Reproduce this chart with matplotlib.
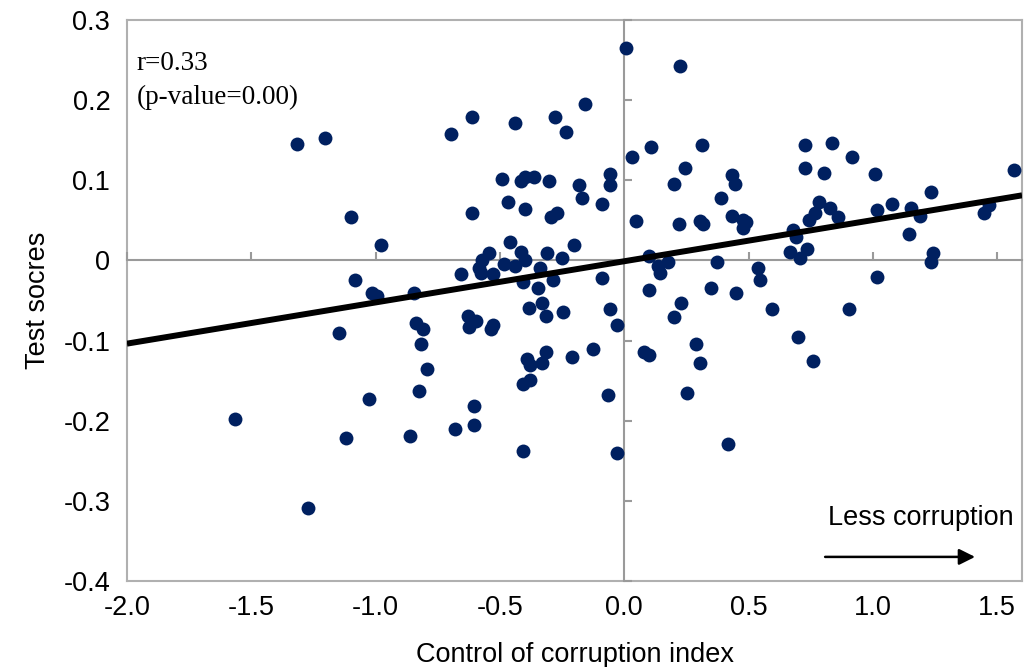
import matplotlib
matplotlib.use("Agg")
import matplotlib.pyplot as plt
import numpy as np

# Control of corruption index (x) and test scores (y)
corruption = [
    -1.316, -1.204, -1.099, -0.978, -1.083, -1.014, -0.994, -0.845,
    -1.147, -0.837, -0.809, -0.817, -0.793, -0.825, -1.027, -1.566, -1.119, -0.862, -1.272,
    0.007, -0.158, -0.612, -0.697, -0.439, -0.278, -0.234, 0.031,
    -0.492, -0.415, -0.399, -0.363, -0.302, -0.057, -0.057, -0.182, -0.170, -0.089,
    -0.612, -0.467, -0.399, -0.294, -0.270, 0.047,
    -0.459, -0.202, -0.544, -0.572, -0.415, -0.399, -0.311, -0.250,
    -0.483, -0.439, -0.584, -0.339, -0.656, -0.576, -0.528, -0.286, -0.089,
    -0.407, -0.347,
    -0.383, -0.331, -0.315, -0.246, -0.057, -0.029,
    -0.628, -0.624, -0.596, -0.536, -0.528,
    -0.391, -0.379, -0.331, -0.315, -0.210, -0.126,
    -0.407, -0.379, -0.065, -0.604, -0.604, -0.681, -0.407, -0.029,
    0.224, 0.108, 0.313, 0.245, 0.200, 0.434, 0.446, 0.389,
    0.220, 0.305, 0.317, 0.434, 0.478, 0.478, 0.490,
    0.727, 0.836, 0.727, 0.804, 0.784, 0.767, 0.743, 0.828, 0.860,
    0.679, 0.691, 0.667, 0.735, 0.707,
    0.100, 0.136, 0.144, 0.176, 0.373, 0.538, 0.546,
    0.100, 0.349, 0.450, 0.228, 0.200, 0.595,
    0.289, 0.080, 0.100, 0.305, 0.699, 0.760, 0.253, 0.418,
    0.916, 1.009, 1.568, 1.017, 1.077, 1.154, 1.190, 1.234, 1.467, 1.447, 1.146,
    1.242, 1.234, 1.017, 0.904,
]
test_scores = [
    0.145, 0.1525, 0.054, 0.019, -0.024, -0.041, -0.044, -0.041,
    -0.090, -0.0775, -0.085, -0.104, -0.136, -0.1625, -0.1725, -0.1975, -0.221, -0.219, -0.309,
    0.265, 0.195, 0.179, 0.1575, 0.171, 0.179, 0.160, 0.129,
    0.101, 0.099, 0.104, 0.104, 0.099, 0.1075, 0.094, 0.094, 0.0775, 0.070,
    0.059, 0.0725, 0.064, 0.054, 0.059, 0.049,
    0.0225, 0.019, 0.009, 0.001, 0.011, 0.001, 0.009, 0.0025,
    -0.005, -0.0075, -0.010, -0.010, -0.0175, -0.016, -0.0175, -0.024, -0.0225,
    -0.0275, -0.034,
    -0.059, -0.0525, -0.069, -0.064, -0.061, -0.080,
    -0.069, -0.0825, -0.076, -0.085, -0.080,
    -0.1225, -0.130, -0.1275, -0.114, -0.120, -0.111,
    -0.154, -0.149, -0.1675, -0.181, -0.205, -0.210, -0.2375, -0.240,
    0.2425, 0.141, 0.144, 0.115, 0.096, 0.106, 0.096, 0.0775,
    0.046, 0.049, 0.046, 0.056, 0.051, 0.041, 0.0475,
    0.144, 0.146, 0.115, 0.109, 0.0725, 0.059, 0.051, 0.065, 0.054,
    0.0375, 0.029, 0.011, 0.014, 0.0025,
    0.006, -0.0075, -0.016, -0.0025, -0.0025, -0.010, -0.024,
    -0.0375, -0.034, -0.040, -0.0525, -0.071, -0.061,
    -0.104, -0.114, -0.1175, -0.1275, -0.096, -0.125, -0.165, -0.229,
    0.129, 0.1075, 0.1125, 0.0625, 0.070, 0.065, 0.056, 0.086, 0.069, 0.059, 0.0325,
    0.009, -0.0025, -0.021, -0.061,
]

# Trend line (as drawn in the reference)
trend_slope = 0.0514
trend_intercept = -0.001

x_ticks = [-2.0, -1.5, -1.0, -0.5, 0.0, 0.5, 1.0, 1.5]
x_tick_labels = ["-2.0", "-1.5", "-1.0", "-0.5", "0.0", "0.5", "1.0", "1.5"]
y_ticks = [-0.4, -0.3, -0.2, -0.1, 0.0, 0.1, 0.2, 0.3]
y_tick_labels = ["-0.4", "-0.3", "-0.2", "-0.1", "0", "0.1", "0.2", "0.3"]
x_range = (-2.0, 1.6)
y_range = (-0.4, 0.3)

SANS = ["Liberation Sans", "DejaVu Sans"]
SERIF = ["Liberation Serif", "DejaVu Serif"]
GRAY = "#9a9a9a"
FS = 19.5

fig = plt.figure(figsize=(10.33, 6.67), dpi=100)
pos = [0.1229, 0.1289, 0.8665, 0.8411]
ax = fig.add_axes(pos)
ax.set_xlim(*x_range)
ax.set_ylim(*y_range)

for s in ax.spines.values():
    s.set_color("#b0b0b0")
    s.set_linewidth(1.5)

ax.set_xticks(x_ticks)
ax.set_xticklabels(x_tick_labels, fontfamily=SANS, fontsize=FS)
ax.set_yticks(y_ticks)
ax.set_yticklabels(y_tick_labels, fontfamily=SANS, fontsize=FS)
ax.tick_params(axis="x", length=0, pad=10, colors="black")
ax.tick_params(axis="y", length=0, pad=12, colors="black")

# zero-axis overlay with inward tick marks
ax2 = fig.add_axes(pos)
ax2.set_facecolor("none")
ax2.set_xlim(*x_range)
ax2.set_ylim(*y_range)
ax2.spines["top"].set_visible(False)
ax2.spines["right"].set_visible(False)
ax2.spines["left"].set_position(("data", 0))
ax2.spines["bottom"].set_position(("data", 0))
for k in ("left", "bottom"):
    ax2.spines[k].set_color(GRAY)
    ax2.spines[k].set_linewidth(1.5)
ax2.tick_params(direction="in", length=6, width=1.5, color=GRAY,
                labelleft=False, labelbottom=False)
ax2.set_xticks([t for t in x_ticks if t != 0.0])
ax2.set_yticks([t for t in y_ticks if t != 0.0])

ax2.scatter(corruption, test_scores, s=100, color="#002060", zorder=3, linewidths=0)
xl = np.array(x_range)
ax2.plot(xl, trend_slope * xl + trend_intercept, color="black", lw=4.3, zorder=4,
         solid_capstyle="butt")

ax.set_xlabel("Control of corruption index", fontfamily=SANS, fontsize=FS)
ax.set_ylabel("Test socres", fontfamily=SANS, fontsize=FS)
ax.xaxis.set_label_coords(0.5, -0.108)
ax.yaxis.set_label_coords(-0.085, 0.5)

ax2.text(0.011, 0.923, "r=0.33", transform=ax2.transAxes, fontfamily=SERIF,
         fontsize=FS, va="center", ha="left")
ax2.text(0.011, 0.862, "(p-value=0.00)", transform=ax2.transAxes, fontfamily=SERIF,
         fontsize=FS, va="center", ha="left")

ax2.text(0.887, 0.113, "Less corruption", transform=ax2.transAxes, fontfamily=SANS,
         fontsize=FS, va="center", ha="center")
ax2.annotate("", xy=(0.9475, 0.043), xytext=(0.78, 0.043),
             xycoords="axes fraction", textcoords="axes fraction",
             arrowprops=dict(arrowstyle="-|>", color="black", lw=1.8,
                             mutation_scale=24, shrinkA=0, shrinkB=0))

fig.savefig("out.png", dpi=100, facecolor="white")
